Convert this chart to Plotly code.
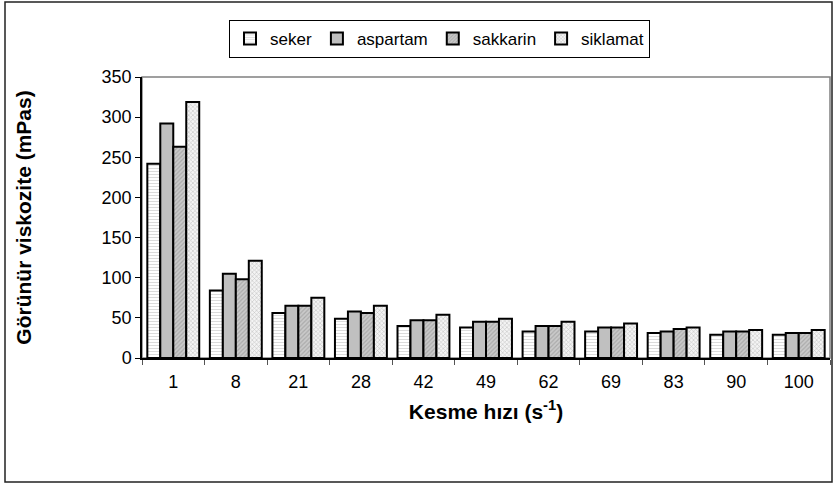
import plotly.graph_objects as go

categories = ["1", "8", "21", "28", "42", "49", "62", "69", "83", "90", "100"]
seker =    [242, 84, 56, 49, 40, 38, 33, 33, 31, 29, 29]
aspartam = [292, 105, 65, 58, 47, 45, 40, 38, 33, 33, 31]
sakkarin = [263, 98, 65, 56, 47, 45, 40, 38, 36, 33, 31]
siklamat = [319, 121, 75, 65, 54, 49, 45, 43, 38, 35, 35]

series = [
    ("seker", seker, dict(shape="-", fgcolor="#b0b0b0", bgcolor="#ffffff", size=3, solidity=0.3)),
    ("aspartam", aspartam, dict(shape="", fgcolor="#c0c0c0", bgcolor="#c0c0c0")),
    ("sakkarin", sakkarin, dict(shape="/", fgcolor="#8a8a8a", bgcolor="#cacaca", size=3, solidity=0.4)),
    ("siklamat", siklamat, dict(shape="x", fgcolor="#909090", bgcolor="#f4f4f4", size=3, solidity=0.35)),
]

fig = go.Figure()
for name, vals, pat in series:
    fig.add_trace(go.Bar(
        x=categories, y=vals, name=name,
        marker=dict(color=pat["bgcolor"], line=dict(color="black", width=2), pattern=pat),
    ))

W, H = 835, 485
l, r, t, b = 142, 5, 77, 127
pw, ph = W - l - r, H - t - b

def px(x):
    return (x - l) / pw

def py(y):
    return (H - b - y) / ph

fig.update_layout(
    width=W, height=H,
    margin=dict(l=l, r=r, t=t, b=b),
    paper_bgcolor="white", plot_bgcolor="white",
    barmode="group", bargap=0.17, bargroupgap=0,
    font=dict(family="Liberation Sans, Arial", size=18, color="black"),
    showlegend=True,
    legend=dict(
        orientation="h", x=px(229), y=py(20), xanchor="left", yanchor="top",
        bordercolor="black", borderwidth=1, bgcolor="white",
        font=dict(size=17), itemwidth=30, tracegroupgap=0,
    ),
    xaxis=dict(
        showline=True, linecolor="black", linewidth=1.5,
        ticks="outside", tickson="boundaries", ticklen=5, tickcolor="#555",
        tickfont=dict(size=18), ticklabelstandoff=7,
        title=dict(text="<b>Kesme hızı (s<sup>-1</sup>)</b>", font=dict(size=21), standoff=13),
    ),
    yaxis=dict(
        range=[0, 350], dtick=50, showgrid=False, zeroline=False,
        showline=True, linecolor="black", linewidth=1.5,
        ticks="outside", ticklen=5, tickcolor="black",
        tickfont=dict(size=18), ticklabelstandoff=0,
        title=dict(text="<b>Görünür viskozite (mPas)</b>", font=dict(size=21), standoff=64),
    ),
    shapes=[
        dict(type="rect", xref="paper", yref="paper", x0=0, x1=1, y0=0, y1=1,
             line=dict(color="#808080", width=1.5), layer="below"),
        dict(type="rect", xref="paper", yref="paper", x0=px(5), x1=px(832), y0=py(482), y1=py(2),
             line=dict(color="#222", width=1.5), layer="below"),
    ],
)

fig.write_html("out.html", config={"displayModeBar": False},
               post_script="document.body.style.margin='0';document.body.style.overflow='hidden';")
